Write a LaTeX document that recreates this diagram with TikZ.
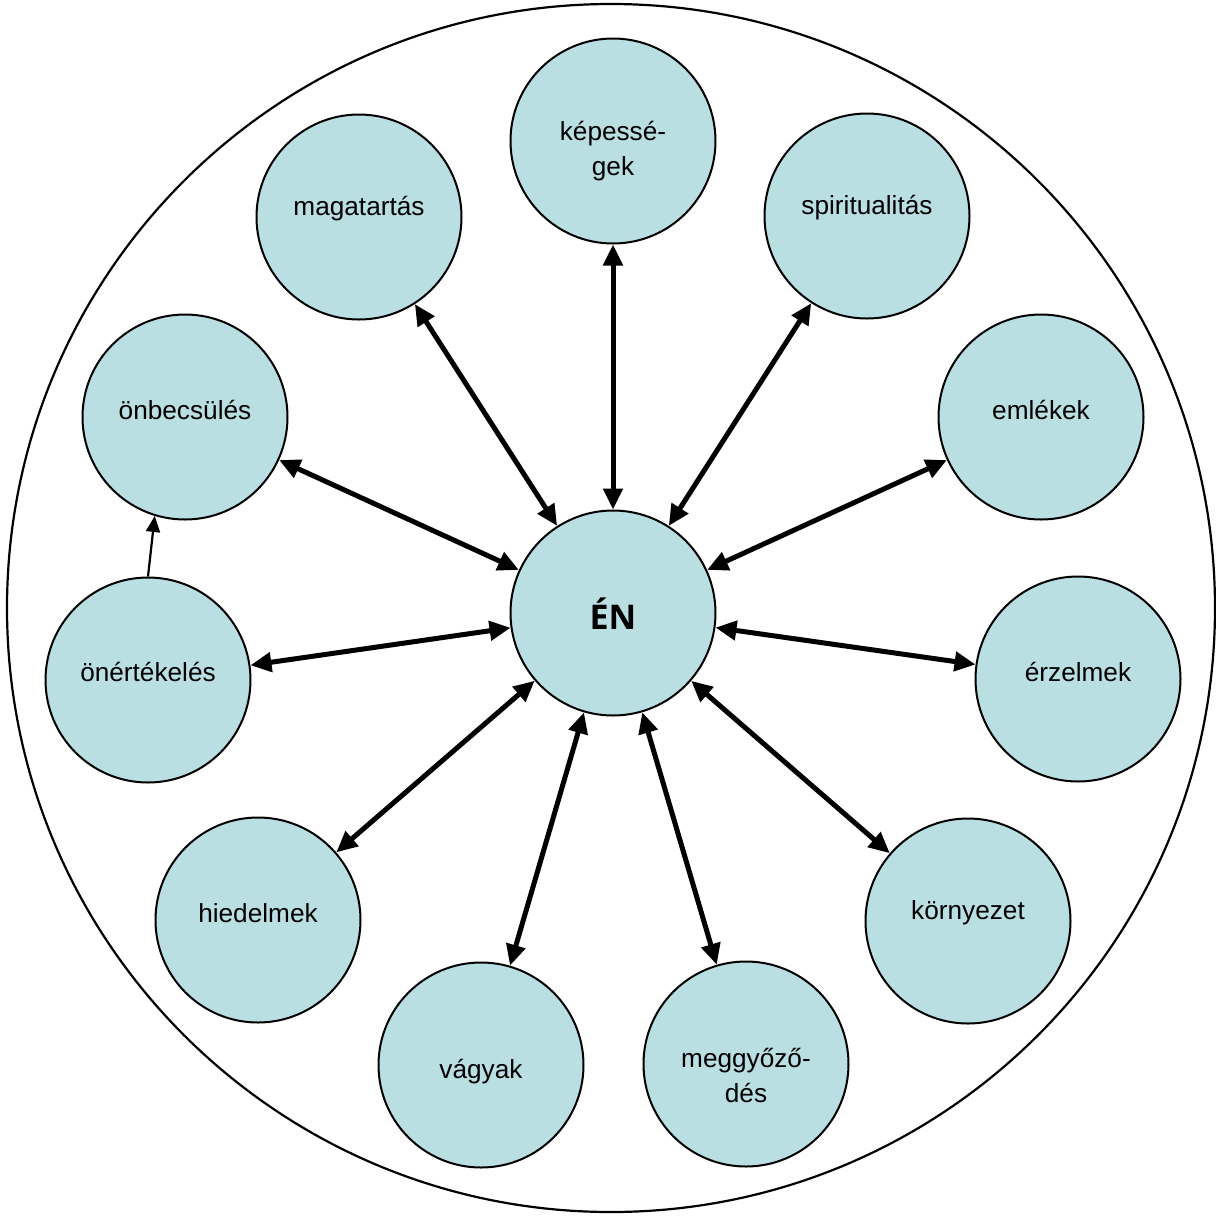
\documentclass[tikz,border=0pt]{standalone}
\usepackage{fontspec}
\setmainfont{Liberation Sans}
\newfontfamily\enfont{Open Sans}
\usetikzlibrary{arrows.meta}
\definecolor{bubfill}{RGB}{185,223,227}
\tikzset{
  bub/.style={circle, draw=black, line width=1pt, fill=bubfill, minimum size=102.5pt, inner sep=0pt},
  lbl/.style={font=\fontsize{13.1pt}{17.5pt}\selectfont, align=center, inner sep=0pt},
  link/.style={line width=2.5pt, {Triangle[length=10.5pt,width=9.5pt]}-{Triangle[length=10.5pt,width=9.5pt]}},
  thinlink/.style={line width=1.1pt, -{Triangle[length=8pt,width=7pt]}}
}
\begin{document}
\begin{tikzpicture}[x=0.5pt,y=-0.5pt]
\useasboundingbox (0,0) rectangle (1216,1217);
\node[circle, draw=black, line width=1.1pt, minimum size=604pt, inner sep=0pt] (outer) at (611,608) {};
\node[bub] (en) at (613,613) {};
\node[bub] (kep) at (613,141) {};
\node[bub] (mag) at (359,217) {};
\node[bub] (spi) at (867,216) {};
\node[bub] (onb) at (185,417) {};
\node[bub] (eml) at (1041,417) {};
\node[bub] (one) at (148,680) {};
\node[bub] (erz) at (1078,679) {};
\node[bub] (hie) at (258,920) {};
\node[bub] (kor) at (968,921) {};
\node[bub] (vag) at (481,1065) {};
\node[bub] (meg) at (746,1064) {};
\node[lbl, font=\enfont\bfseries\fontsize{17pt}{20pt}\selectfont] (enT) at (613,614) {ÉN};
\node[lbl] (kepT) at (613,151) {képessé-\\gek};
\node[lbl] (magT) at (359,209) {magatartás};
\node[lbl] (spiT) at (867,208) {spiritualitás};
\node[lbl] (onbT) at (185,410) {önbecsülés};
\node[lbl] (emlT) at (1041,410) {emlékek};
\node[lbl] (oneT) at (148,672) {önértékelés};
\node[lbl] (erzT) at (1078,672) {érzelmek};
\node[lbl] (hieT) at (258,913) {hiedelmek};
\node[lbl] (korT) at (968,913) {környezet};
\node[lbl] (vagT) at (481,1072) {vágyak};
\node[lbl] (megT) at (746,1075) {meggyőző-\\dés};
\foreach \n in {kep,mag,spi,onb,eml,one,erz,hie,kor,vag,meg}
  \draw[link] (en) -- (\n);
\draw[thinlink] (one.90) -- (onb.253);
\end{tikzpicture}
\end{document}
